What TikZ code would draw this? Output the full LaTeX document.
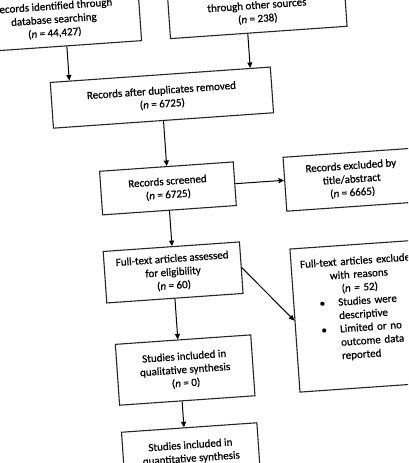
\documentclass[tikz,border=0pt]{standalone}
\usepackage{fontspec}
\setmainfont{Carlito}[FakeBold=0.6]
\usetikzlibrary{arrows.meta,calc}
\begin{document}
\begin{tikzpicture}[x=1pt,y=-1pt,
  box/.style={draw=black!85,line width=1.1pt,fill=white,align=center,inner sep=0pt,transform shape,font=\fontsize{11}{13.4}\selectfont},
  conn/.style={draw=black,line width=1pt,-{Triangle[length=5.5pt,width=5pt]}}]
\useasboundingbox (0,0) rectangle (408,463);
\fill[white] (0,0) rectangle (408,463);
\clip (0,0) rectangle (408,463);
\begin{scope}[rotate around={4:(204,231)}]
\node[box,minimum width=172pt,minimum height=53.5pt] (b1) at (69,10) {Records identified through\\database searching\\(\textit{n} = 44,427)};
\node[box,minimum width=177pt,minimum height=53.5pt] (b2) at (272.5,10) {Additional records identified\\through other sources\\(\textit{n} = 238)};
\node[box,minimum width=220.6pt,minimum height=45.8pt] (b3) at (171.3,95) {Records after duplicates removed\\(\textit{n} = 6725)};
\node[box,minimum width=134pt,minimum height=43.7pt] (b4) at (171,186) {Records screened\\(\textit{n} = 6725)};
\node[box,minimum width=134pt,minimum height=54pt] (b5) at (355,190) {Records excluded by\\title/abstract\\(\textit{n} = 6665)};
\node[box,minimum width=136.6pt,minimum height=51.6pt] (b6) at (170.3,270.2) {Full-text articles assessed\\for eligibility\\(\textit{n} = 60)};
\node[box,minimum width=134pt,minimum height=143.4pt,text width=134pt,align=left] (b7) at (355.5,326.7) {{\centering Full-text articles excluded\\with reasons\\(\textit{n} = 52)\par}\raggedright
\hspace*{25.8pt}\makebox[18.7pt][l]{\textbullet}Studies were\\
\hspace*{44.5pt}descriptive\\
\hspace*{25.8pt}\makebox[18.7pt][l]{\textbullet}Limited or no\\
\hspace*{44.5pt}outcome data\\
\hspace*{44.5pt}reported\par\noindent\rule{0pt}{15pt}};
\node[box,minimum width=135.7pt,minimum height=61pt] (b8) at (175.5,368.4) {Studies included in\\qualitative synthesis\\(\textit{n} = 0)};
\node[box,minimum width=135.7pt,minimum height=61pt] (b9) at (175.5,456.5) {Studies included in\\quantitative synthesis\\\mbox{}};
\coordinate (a1) at ($(b1.south west)!0.564!(b1.south east)$);
\coordinate (a2) at ($(b2.south west)!0.438!(b2.south east)$);
\draw[conn] (a1) -- ($(b3.north west)!(a1)!(b3.north east)$);
\draw[conn] (a2) -- ($(b3.north west)!(a2)!(b3.north east)$);
\draw[conn] (b3.south) -- ($(b4.north west)!(b3.south)!(b4.north east)$);
\draw[conn] (b4.east) -- ($(b5.north west)!(b4.east)!(b5.south west)$);
\draw[conn] (b4.south) -- ($(b6.north west)!(b4.south)!(b6.north east)$);
\draw[conn] (b6.east) -- (b7.west);
\coordinate (a8) at ($(b8.south west)!(b6.south)!(b8.south east)$);
\draw[conn] (b6.south) -- ($(b8.north west)!(b6.south)!(b8.north east)$);
\draw[conn] (a8) -- ($(b9.north west)!(a8)!(b9.north east)$);
\end{scope}
\end{tikzpicture}
\end{document}
